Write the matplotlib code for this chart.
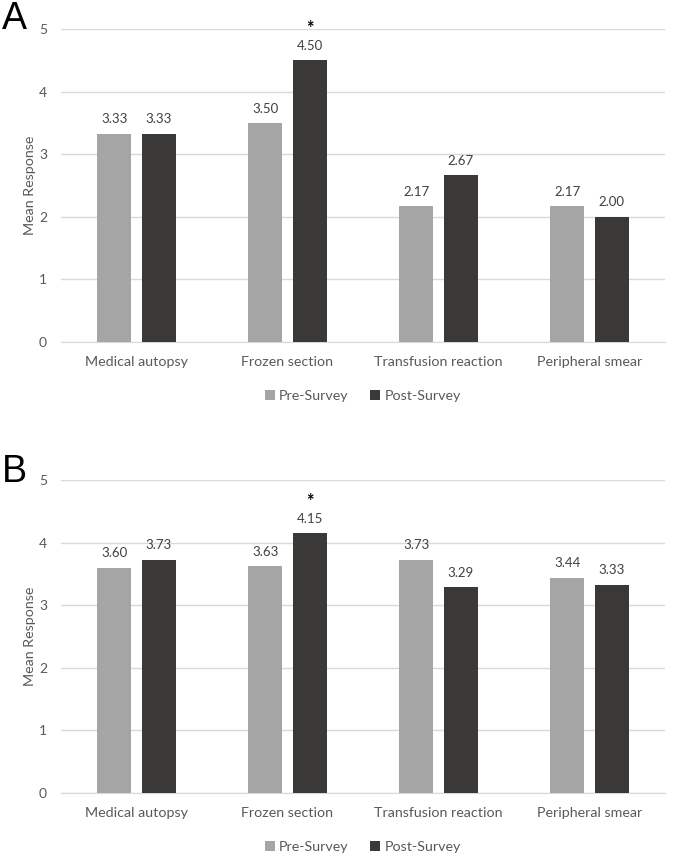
import matplotlib.pyplot as plt
import numpy as np

# data
categories = ['Medical autopsy', 'Frozen section', 'Transfusion reaction', 'Peripheral smear']
pre_a = [3.33, 3.50, 2.17, 2.17]
post_a = [3.33, 4.50, 2.67, 2.00]
pre_b = [3.60, 3.63, 3.73, 3.44]
post_b = [3.73, 4.15, 3.29, 3.33]
yticks = [0, 1, 2, 3, 4, 5]

pre_color = '#A5A5A5'
post_color = '#3B3838'
txt_color = '#595959'
plt.rcParams['font.family'] = ['Lato', 'DejaVu Sans']

fig = plt.figure(figsize=(6.79, 8.57), dpi=100)
ax_a = fig.add_axes([0.0898, 0.601, 0.8895, 0.365])
ax_b = fig.add_axes([0.0898, 0.0747, 0.8895, 0.365])


def draw_panel(ax, pre, post, star_idx):
    x = np.arange(len(categories))
    w = 0.225
    off = 0.148
    b1 = ax.bar(x - off, pre, w, color=pre_color, label='Pre-Survey', zorder=3)
    b2 = ax.bar(x + off, post, w, color=post_color, label='Post-Survey', zorder=3)
    for bars in (b1, b2):
        for r in bars:
            ax.annotate('%.2f' % r.get_height(), (r.get_x() + r.get_width() / 2, r.get_height()),
                        xytext=(0, 6), textcoords='offset points', ha='center', va='bottom',
                        fontsize=9.5, color='#404040')
    r = b2[star_idx]
    # significance marker
    ax.annotate('*', (r.get_x() + r.get_width() / 2, r.get_height()),
                xytext=(0, 19), textcoords='offset points', ha='center', va='baseline',
                fontsize=13, fontweight='bold', color='black')
    ax.set_xlim(-0.5, len(categories) - 0.5)
    ax.set_ylim(0, 5)
    ax.set_yticks(yticks)
    ax.set_xticks(x)
    ax.set_xticklabels(categories, fontsize=10.3, color=txt_color)
    ax.tick_params(axis='y', labelsize=10, labelcolor=txt_color, length=0, pad=10)
    ax.tick_params(axis='x', length=0, pad=10)
    ax.grid(axis='y', color='#D9D9D9', linewidth=1, zorder=0)
    for s in ['top', 'right', 'left']:
        ax.spines[s].set_visible(False)
    ax.spines['bottom'].set_color('#D9D9D9')
    ax.set_ylabel('Mean Response', fontsize=10.3, color=txt_color, labelpad=2)
    ax.legend(loc='upper center', bbox_to_anchor=(0.5, -0.112), ncol=2, frameon=False,
              fontsize=10.3, labelcolor=txt_color, handlelength=0.7, handleheight=0.7,
              handletextpad=0.3, columnspacing=1.5)


draw_panel(ax_a, pre_a, post_a, 1)
draw_panel(ax_b, pre_b, post_b, 1)

fig.text(0.003, 0.966, 'A', fontsize=27, family='Liberation Sans', va='baseline', ha='left')
fig.text(0.003, 0.4376, 'B', fontsize=27, family='Liberation Sans', va='baseline', ha='left')

plt.savefig('out.png', dpi=100)
